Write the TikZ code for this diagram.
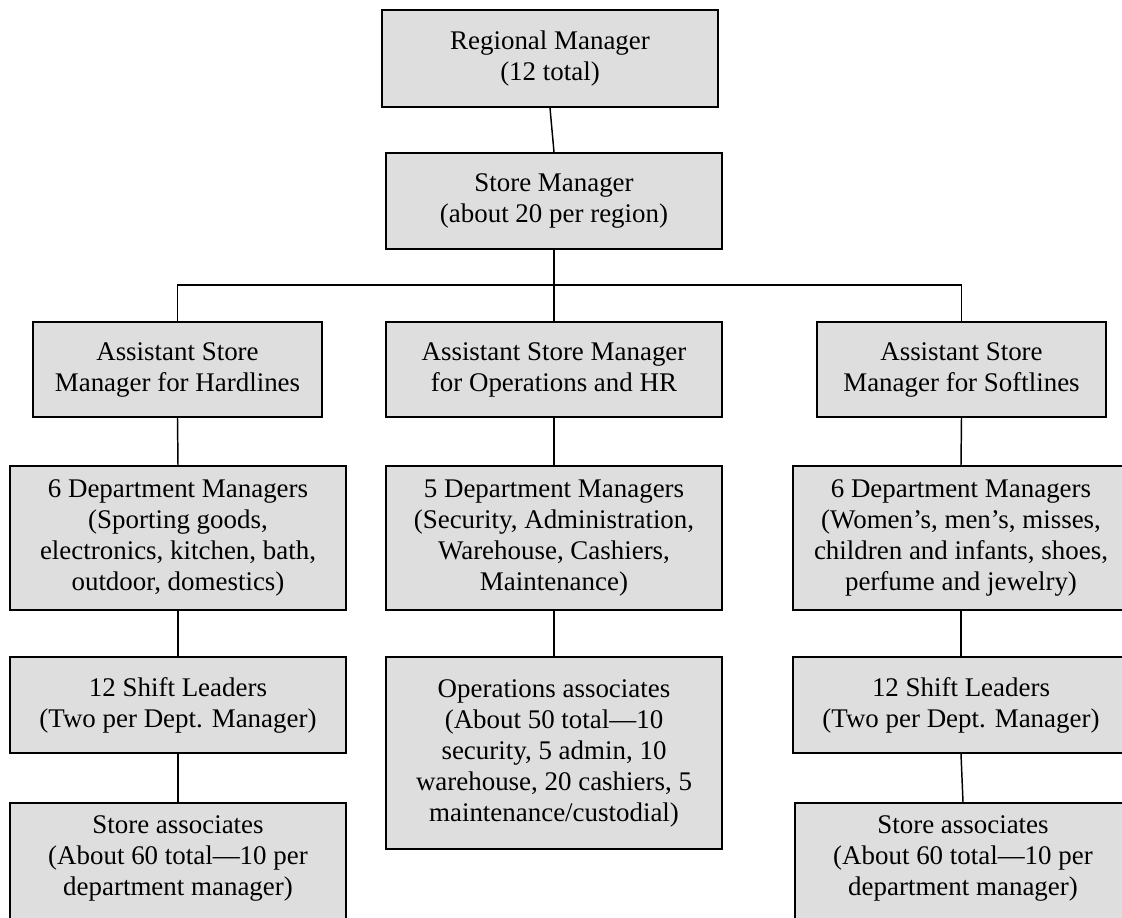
\documentclass[tikz,border=0pt]{standalone}
\usepackage{fontspec}
\setmainfont{Liberation Serif}
\definecolor{boxgray}{HTML}{DEDEDE}
\begin{document}
\begin{tikzpicture}[x=0.75pt,y=-0.75pt,
  txt/.style={align=center, inner sep=0pt, font=\fontsize{20.2}{23.25}\selectfont},
  box/.style={txt, draw=black, fill=boxgray, line width=1.3pt, rectangle},
  wide/.style={minimum width=252pt},
  narrow/.style={minimum width=216.75pt},
  conn/.style={line width=1.1pt, draw=black}]
\useasboundingbox (0,0) rectangle (1122,918);
\clip (0,0) rectangle (1122,918);

% top levels
\node[box, wide, minimum height=72.75pt] (rm) at (550,58.5) {Regional Manager\\(12 total)};
\node[box, wide, minimum height=72pt] (sm) at (554,201) {Store Manager\\(about 20 per region)};

% assistant store managers
\node[box, narrow, minimum height=71.25pt] (asmH) at (177.5,369.5) {Assistant Store\\Manager for Hardlines};
\node[box, wide, minimum height=71.25pt] (asmO) at (554,369.5) {Assistant Store Manager\\for Operations and HR};
\node[box, narrow, minimum height=71.25pt] (asmS) at (961.5,369.5) {Assistant Store\\Manager for Softlines};

% department managers
\node[box, wide, minimum height=108pt] (dmH) at (178,538) {6 Department Managers\\(Sporting goods,\\electronics, kitchen, bath,\\outdoor, domestics)};
\node[box, wide, minimum height=108pt] (dmO) at (554,538) {5 Department Managers\\(Security, Administration,\\Warehouse, Cashiers,\\Maintenance)};
\node[box, wide, minimum height=108pt] (dmS) at (961,538) {6 Department Managers\\(Women’s, men’s, misses,\\children and infants, shoes,\\perfume and jewelry)};

% shift leaders / operations associates
\node[box, wide, minimum height=72pt] (slH) at (178,705) {12 Shift Leaders\\(Two per Dept. Manager)};
\node[box, wide, minimum height=144pt] (oa) at (554,753) {Operations associates\\(About 50 total—10\\security, 5 admin, 10\\warehouse, 20 cashiers, 5\\maintenance/custodial)};
\node[box, wide, minimum height=72pt] (slS) at (961,705) {12 Shift Leaders\\(Two per Dept. Manager)};

% store associates (boxes run off the bottom edge)
\node[box, wide, minimum height=105pt, anchor=north] (saH) at (178,802) {};
\node[txt, anchor=north] (saHt) at (178,815) {Store associates\\(About 60 total—10 per\\department manager)};
\node[box, wide, minimum height=105pt, anchor=north] (saS) at (963,802) {};
\node[txt, anchor=north] (saSt) at (963,815) {Store associates\\(About 60 total—10 per\\department manager)};

% connectors
\coordinate (busL) at (asmH.north |- 0,285);
\coordinate (busR) at (asmS.north |- 0,285);
\draw[conn] (rm.south) -- (sm.north);
\draw[conn] (sm.south) -- (asmO.north);
\draw[conn] (asmH.north) -- (busL) -- (busR) -- (asmS.north);
\draw[conn] (asmH.south) -- (dmH.north);
\draw[conn] (asmO.south) -- (dmO.north);
\draw[conn] (asmS.south) -- (dmS.north);
\draw[conn] (dmH.south) -- (slH.north);
\draw[conn] (dmO.south) -- (oa.north);
\draw[conn] (dmS.south) -- (slS.north);
\draw[conn] (slH.south) -- (saH.north);
\draw[conn] (slS.south) -- (saS.north);
\end{tikzpicture}
\end{document}
